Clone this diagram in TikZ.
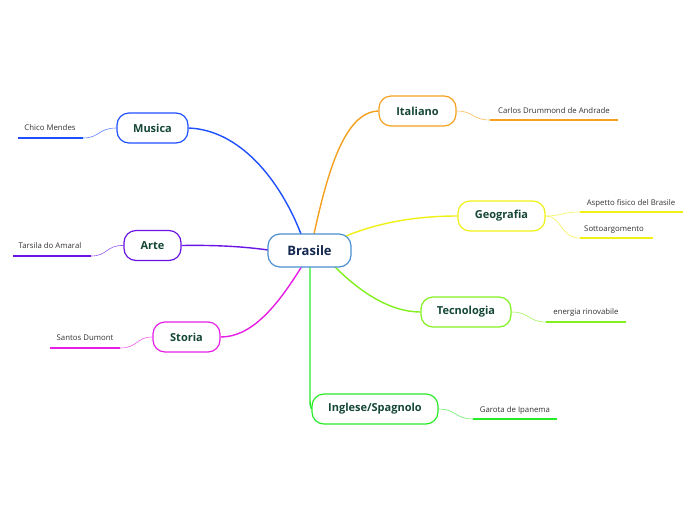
\documentclass[tikz,border=0pt]{standalone}
\usepackage{fontspec}
\setmainfont{Open Sans}
\pgfdeclarelayer{links}
\pgfdeclarelayer{paper}
\pgfsetlayers{paper,links,main}
\begin{document}
\begin{tikzpicture}[x=1pt,y=-1pt,
  topic/.style={draw, rounded corners=12pt, line width=1.2pt, fill=white, text=titlecol, font=\fontsize{11}{13}\selectfont\bfseries, minimum height=30pt, inner sep=0pt},
  sublabel/.style={font=\fontsize{7.8}{9}\selectfont, text=subcol, anchor=base, inner sep=0pt},
  uline/.style={line width=1.8pt},
  mainlink/.style={line width=1.4pt},
  sublink/.style={line width=0.6pt, opacity=0.7}
]
\definecolor{titlecol}{HTML}{154734}
\definecolor{subcol}{HTML}{333333}
\definecolor{cblue}{HTML}{1E50FF}
\definecolor{cpurple}{HTML}{6A14E6}
\definecolor{cmag}{HTML}{E61EE6}
\definecolor{corange}{HTML}{F5A01E}
\definecolor{cyellow}{HTML}{F0F014}
\definecolor{clime}{HTML}{82F01E}
\definecolor{cgreen}{HTML}{28EB28}
\definecolor{cborder}{HTML}{4A90D0}
\definecolor{cnavy}{HTML}{142850}
\useasboundingbox (0,0) rectangle (696,520);
\begin{pgfonlayer}{paper}
\fill[white] (0,0) rectangle (696,520);
\end{pgfonlayer}

% central
\node[draw=cborder, line width=1.2pt, rounded corners=12pt, fill=white, minimum width=83pt, minimum height=33pt, inner sep=0pt, text=cnavy, font=\fontsize{13}{15}\selectfont\bfseries] (bra) at (309.5,250.5) {Brasile};

\coordinate (bMus) at (301,234);
\coordinate (bIta) at (314,234);
\coordinate (bGeo) at (346,236);
\coordinate (bTec) at (334,266);
\coordinate (bIng) at (310,266);
\coordinate (bSto) at (302,266);
\coordinate (bArt) at (268,250);

\node[topic, draw=cblue, minimum width=71pt] (mus) at (152.5,128) {Musica};
\node[topic, draw=cpurple, minimum width=57pt] (art) at (152.5,245.5) {Arte};
\node[topic, draw=cmag, minimum width=67pt] (sto) at (186.5,337) {Storia};
\node[topic, draw=corange, minimum width=77pt] (ita) at (417.5,111) {Italiano};
\node[topic, draw=cyellow, minimum width=87pt] (geo) at (501.5,216) {Geografia};
\node[topic, draw=clime, minimum width=90pt] (tec) at (466,312) {Tecnologia};
\node[topic, draw=cgreen, minimum width=126pt] (ing) at (375,409) {Inglese/Spagnolo};

\begin{pgfonlayer}{links}
\draw[mainlink, cblue] (mus.east) .. controls (240,130) and (280,180) .. (bMus);
\draw[mainlink, corange] (bIta) .. controls (328,170) and (345,112) .. (ita.west);
\draw[mainlink, cyellow] (bGeo) .. controls (385,220) and (425,216) .. (geo.west);
\draw[mainlink, clime] (bTec) .. controls (360,292) and (390,312) .. (tec.west);
\draw[mainlink, cgreen] (bIng) -- (310,396) .. controls (310,405) .. (ing.west);
\draw[mainlink, cpurple] (bArt) .. controls (240,246) and (210,245) .. (art.east);
\draw[mainlink, cmag] (bSto) .. controls (275,310) and (250,337) .. (sto.east);
\end{pgfonlayer}

% subtopics
\coordinate (cmA) at (83,138); \coordinate (cmB) at (18,138);
\draw[uline, cblue] (cmA) -- (cmB);
\node[sublabel] (cm) at (50,130) {Chico Mendes};
\draw[sublink, cblue] (mus.west) .. controls (98,128) and (100,138) .. (cmA);

\coordinate (taA) at (91,256); \coordinate (taB) at (13,256);
\draw[uline, cpurple] (taA) -- (taB);
\node[sublabel] (ta) at (50,248) {Tarsila do Amaral};
\draw[sublink, cpurple] (art.west) .. controls (106,245) and (108,256) .. (taA);

\coordinate (sdA) at (120,348); \coordinate (sdB) at (50,348);
\draw[uline, cmag] (sdA) -- (sdB);
\node[sublabel] (sd) at (85,340) {Santos Dumont};
\draw[sublink, cmag] (sto.west) .. controls (136,337) and (138,348) .. (sdA);

\coordinate (caA) at (490,120); \coordinate (caB) at (618,120);
\draw[uline, corange] (caA) -- (caB);
\node[sublabel] (ca) at (554,113) {Carlos Drummond de Andrade};
\draw[sublink, corange] (ita.east) .. controls (474,111) and (472,120) .. (caA);

\coordinate (afA) at (580,212); \coordinate (afB) at (683,212);
\draw[uline, cyellow] (afA) -- (afB);
\node[sublabel] (af) at (631,205) {Aspetto fisico del Brasile};
\draw[sublink, cyellow] (geo.east) .. controls (562,216) and (562,212) .. (afA);

\coordinate (soA) at (580,238); \coordinate (soB) at (653,238);
\draw[uline, cyellow] (soA) -- (soB);
\node[sublabel] (so) at (614,231) {Sottoargomento};
\draw[sublink, cyellow] (geo.east) .. controls (562,216) and (560,238) .. (soA);

\coordinate (erA) at (546,322); \coordinate (erB) at (626,322);
\draw[uline, clime] (erA) -- (erB);
\node[sublabel] (er) at (586,314) {energia rinovabile};
\draw[sublink, clime] (tec.east) .. controls (530,312) and (528,322) .. (erA);

\coordinate (giA) at (473,419); \coordinate (giB) at (557,419);
\draw[uline, cgreen] (giA) -- (giB);
\node[sublabel] (gi) at (515,412) {Garota de Ipanema};
\draw[sublink, cgreen] (ing.east) .. controls (456,409) and (455,419) .. (giA);

\end{tikzpicture}
\end{document}
